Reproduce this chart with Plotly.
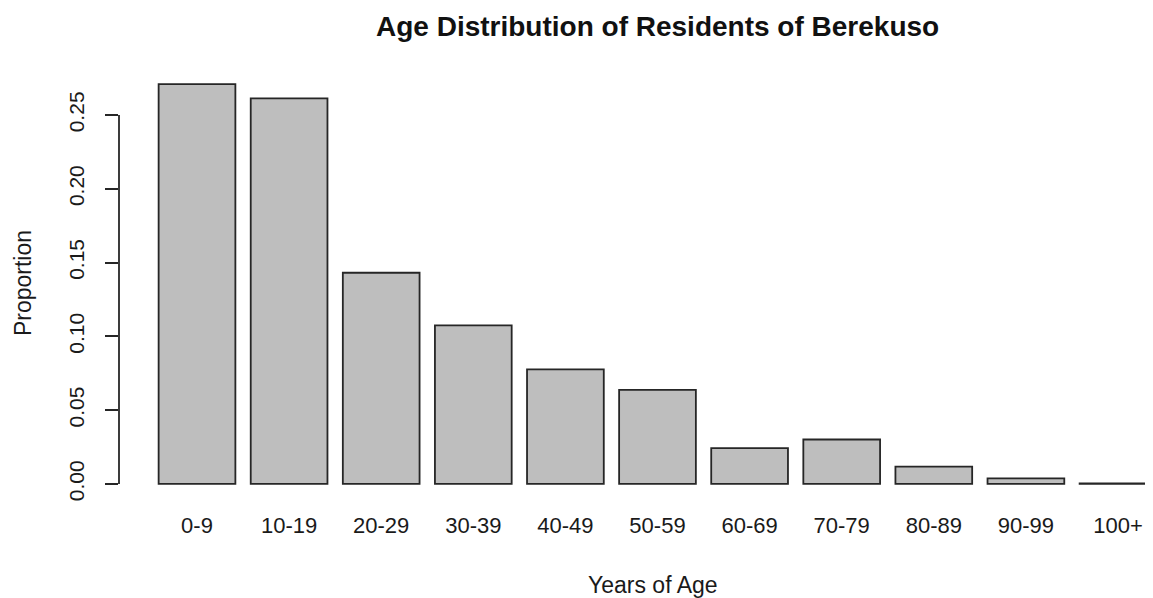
import plotly.graph_objects as go

age_groups = ["0-9", "10-19", "20-29", "30-39", "40-49", "50-59",
              "60-69", "70-79", "80-89", "90-99", "100+"]
proportions = [0.271, 0.2613, 0.1431, 0.1074, 0.0776, 0.0637,
               0.0242, 0.0301, 0.0117, 0.0038, 0.0004]
y_ticks = [0.00, 0.05, 0.10, 0.15, 0.20, 0.25]

# page body adds an 8px offset; work in screen pixels and convert
OFF = 8
SW, SH = 1153, 598
W, H = SW - OFF, SH - OFF

# screen-space targets
PL, PR, PT, PB = 119, 1153, 65, 499.8
ML = PL - OFF
MR = 0
MT = PT - OFF
MB = H - (PB - OFF)
plot_w = (PR - OFF) - ML
plot_h = (PB - OFF) - MT

FONT = "Liberation Sans, Arial, sans-serif"


def px(xs):
    return (xs - PL) / plot_w


def py(ys):
    return (PB - ys) / plot_h


fig = go.Figure(go.Bar(
    x=age_groups, y=proportions,
    marker=dict(color="#BEBEBE", line=dict(color="#262626", width=1.8)),
))

pitch = 92.1
x0 = -(197 - PL) / pitch
x1 = x0 + plot_w / pitch

fig.update_layout(
    width=W, height=H,
    margin=dict(l=ML, r=MR, t=MT, b=MB, pad=0),
    paper_bgcolor="white", plot_bgcolor="white",
    bargap=1/6,
    showlegend=False,
    font=dict(family=FONT, color="#1a1a1a", size=22),
    xaxis=dict(type="category", range=[x0, x1], showgrid=False,
               showline=False, zeroline=False, ticks="",
               tickfont=dict(size=22), ticklabelstandoff=10),
    yaxis=dict(range=[-0.0109, 0.2839], showgrid=False, zeroline=False,
               showline=False, tickvals=y_ticks,
               ticktext=[f"{v:.2f}" for v in y_ticks],
               ticks="outside", ticklen=13, tickwidth=1.8, tickcolor="#262626",
               tickangle=-90, tickfont=dict(size=21), ticklabelstandoff=13),
    shapes=[dict(type="line", xref="paper", yref="y", x0=0, x1=0,
                 y0=min(y_ticks), y1=max(y_ticks),
                 line=dict(color="#262626", width=1.8))],
    annotations=[
        dict(text="<b>Age Distribution of Residents of Berekuso</b>",
             xref="paper", yref="paper", x=px(657), y=py(27),
             xanchor="center", yanchor="middle", showarrow=False,
             font=dict(size=28, color="#111111")),
        dict(text="Proportion", xref="paper", yref="paper",
             x=px(23), y=py(283),
             xanchor="center", yanchor="middle", textangle=-90,
             showarrow=False, font=dict(size=23)),
        dict(text="Years of Age", xref="paper", yref="paper",
             x=px(653), y=py(585),
             xanchor="center", yanchor="middle",
             showarrow=False, font=dict(size=23)),
    ],
)

fig.write_html("out.html")
